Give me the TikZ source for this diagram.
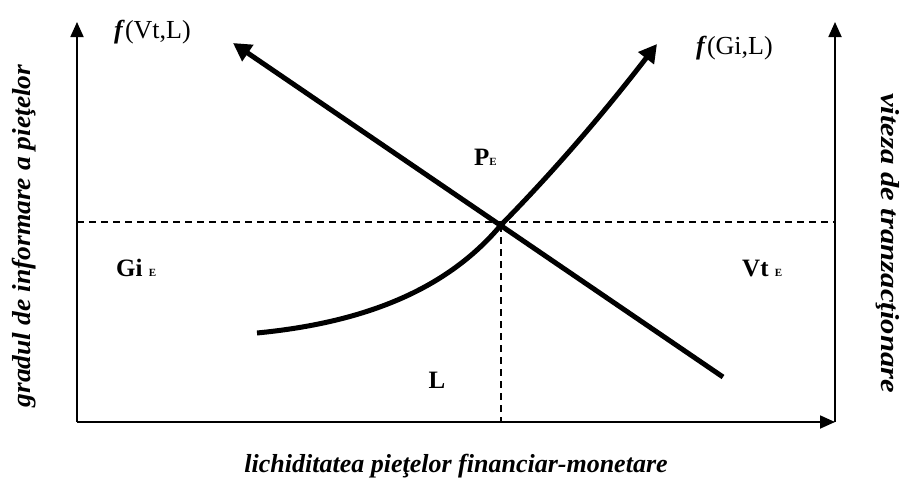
\documentclass[tikz,border=0pt]{standalone}
\usepackage{fontspec}
\setmainfont{Liberation Serif}
\usetikzlibrary{arrows.meta}
\begin{document}
\begin{tikzpicture}[x=1pt,y=-1pt,
  axis/.style={line width=1.8pt,-{Triangle[length=15pt,width=13pt]}},
  curve/.style={line width=5pt,-{Triangle[length=18pt,width=19pt]}},
  guide/.style={line width=1.6pt,dash pattern=on 7pt off 5pt},
  lbl/.style={inner sep=0pt,font=\fontsize{26}{28}\selectfont},
  blbl/.style={inner sep=0pt,font=\bfseries\fontsize{25}{27}\selectfont},
  albl/.style={inner sep=0pt,font=\bfseries\itshape\fontsize{26}{28}\selectfont}]
\useasboundingbox (0,0) rectangle (902,480);
\coordinate (O) at (77,422);
\coordinate (Ytop) at (77,22);
\coordinate (Xend) at (835,422);
\coordinate (R) at (835,422);
\coordinate (Rtop) at (835,22);
\coordinate (E) at (501,225);
\coordinate (Hl) at (77,222);
\coordinate (Hr) at (835,222);
\coordinate (Eb) at (501,422);
\coordinate (Vs) at (723,377);
\coordinate (Ve) at (233,43);
\coordinate (Gs) at (257,333);
\coordinate (Ge) at (657,44);
% axes
\draw[axis] (O) -- (Ytop);
\draw[axis] (O) -- (Xend);
\draw[axis] (R) -- (Rtop);
% guides
\draw[guide] (Hl) -- (Hr);
\draw[guide] (E) -- (Eb);
% curves
\draw[curve] (Vs) -- (Ve);
\draw[curve] (Gs) .. controls (360,323) and (445,292) .. (E)
  .. controls (560,165) and (610,105) .. (Ge);
% labels
\node[lbl,anchor=west] (fv) at (114,32) {\textbf{\textit{f}}(Vt,L)};
\node[lbl,anchor=west] (fg) at (696,48) {\textbf{\textit{f}}(Gi,L)};
\node[blbl,anchor=base west] (pe) at (474,165) {P{\fontsize{11}{12}\selectfont E}};
\node[blbl,anchor=base west] (gi) at (116,276) {Gi {\fontsize{11}{12}\selectfont E}};
\node[blbl,anchor=base west] (vt) at (742,276) {Vt {\fontsize{11}{12}\selectfont E}};
\node[blbl] (l) at (437,380) {L};
\node[albl,rotate=90] (ylab) at (24,236) {\scalebox{1.06}[1]{gradul de informare a pieţelor}};
\node[albl,rotate=-90] (rlab) at (888,243) {\scalebox{1.18}[1]{viteza de tranzacţionare}};
\node[albl] (xlab) at (456,466) {lichiditatea pieţelor financiar-monetare};
\end{tikzpicture}
\end{document}
